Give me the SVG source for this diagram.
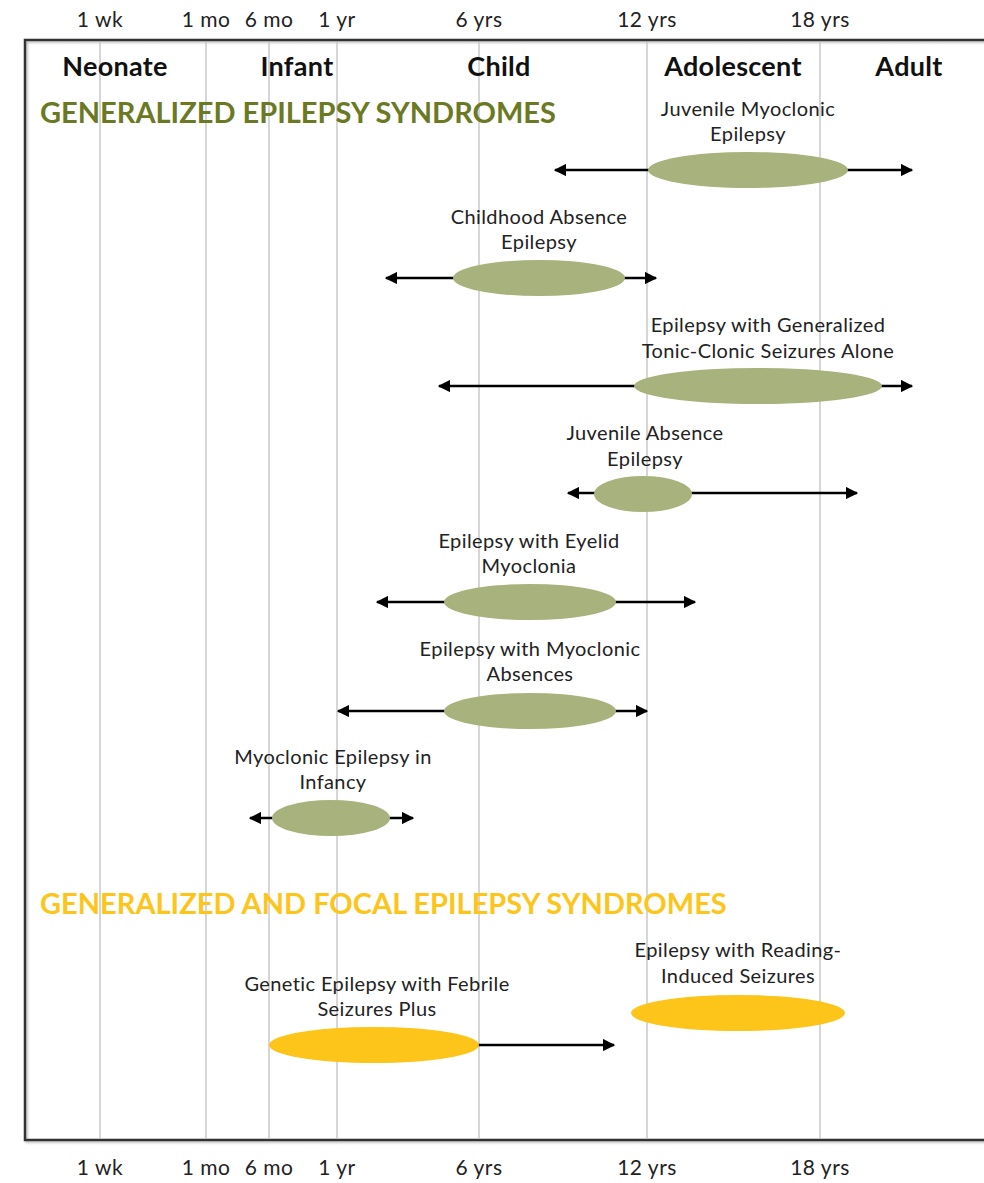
<svg xmlns="http://www.w3.org/2000/svg" width="984" height="1183" viewBox="0 0 984 1183">
<style>
.grid{stroke:#c8c8c8;stroke-width:1.5}
.axis{font-family:Lato,"Open Sans",sans-serif;font-size:21px;letter-spacing:0.5px;fill:#222;text-anchor:middle}
.stage{font-family:Lato,"Open Sans",sans-serif;font-size:27px;font-weight:bold;letter-spacing:0.3px;fill:#111;text-anchor:middle}
.lbl{font-family:Lato,"Open Sans",sans-serif;font-size:20px;letter-spacing:0.4px;fill:#222;text-anchor:middle}
.sec{font-family:Lato,"Open Sans",sans-serif;font-size:29px;font-weight:bold}
.gen{fill:#a8b27c}
.foc{fill:#fdc41a}
.ar{stroke:#000;stroke-width:2.5;fill:none}
</style>
<defs>
<marker id="ah" viewBox="0 0 10 10" refX="9" refY="5" markerWidth="5" markerHeight="5" orient="auto-start-reverse" markerUnits="strokeWidth">
<path d="M0,0 L10,5 L0,10 z" fill="#000"/>
</marker>
<filter id="sh" x="-5%" y="-5%" width="110%" height="110%"><feDropShadow dx="1.5" dy="1.5" stdDeviation="1" flood-color="#888" flood-opacity="0.6"/></filter>
</defs>
<rect width="984" height="1183" fill="#fff"/>
<g id="axis-top">
<text class="axis" x="100" y="27">1 wk</text>
<text class="axis" x="206" y="27">1 mo</text>
<text class="axis" x="269" y="27">6 mo</text>
<text class="axis" x="337" y="27">1 yr</text>
<text class="axis" x="479" y="27">6 yrs</text>
<text class="axis" x="647" y="27">12 yrs</text>
<text class="axis" x="820" y="27">18 yrs</text>
</g>
<g id="axis-bottom">
<text class="axis" x="100" y="1175">1 wk</text>
<text class="axis" x="206" y="1175">1 mo</text>
<text class="axis" x="269" y="1175">6 mo</text>
<text class="axis" x="337" y="1175">1 yr</text>
<text class="axis" x="479" y="1175">6 yrs</text>
<text class="axis" x="647" y="1175">12 yrs</text>
<text class="axis" x="820" y="1175">18 yrs</text>
</g>
<g id="frame">
<path d="M990,40 H25 V1140 H990" fill="none" stroke="#333" stroke-width="2.5" filter="url(#sh)"/>
</g>
<g id="gridlines">
<line class="grid" x1="100" y1="42" x2="100" y2="1139"/>
<line class="grid" x1="206" y1="42" x2="206" y2="1139"/>
<line class="grid" x1="269" y1="42" x2="269" y2="1139"/>
<line class="grid" x1="337" y1="42" x2="337" y2="1139"/>
<line class="grid" x1="479" y1="42" x2="479" y2="1139"/>
<line class="grid" x1="647" y1="42" x2="647" y2="1139"/>
<line class="grid" x1="820" y1="42" x2="820" y2="1139"/>
</g>
<g id="stages">
<text class="stage" x="115" y="76">Neonate</text>
<text class="stage" x="297" y="76">Infant</text>
<text class="stage" x="499" y="76">Child</text>
<text class="stage" x="733" y="76">Adolescent</text>
<text class="stage" x="909" y="76">Adult</text>
</g>
<g id="section-generalized">
<text class="sec" x="40" y="123" fill="#6b7a22">GENERALIZED EPILEPSY SYNDROMES</text>
</g>
<g id="section-focal">
<text class="sec" x="40" y="914" fill="#fdc41a">GENERALIZED AND FOCAL EPILEPSY SYNDROMES</text>
</g>
<g id="connectors">
<line class="ar" x1="555" y1="170" x2="912" y2="170" marker-start="url(#ah)" marker-end="url(#ah)"/>
<line class="ar" x1="386" y1="278" x2="656" y2="278" marker-start="url(#ah)" marker-end="url(#ah)"/>
<line class="ar" x1="439" y1="386" x2="912" y2="386" marker-start="url(#ah)" marker-end="url(#ah)"/>
<line class="ar" x1="568" y1="493" x2="857" y2="493" marker-start="url(#ah)" marker-end="url(#ah)"/>
<line class="ar" x1="377" y1="602" x2="695" y2="602" marker-start="url(#ah)" marker-end="url(#ah)"/>
<line class="ar" x1="338" y1="711" x2="647" y2="711" marker-start="url(#ah)" marker-end="url(#ah)"/>
<line class="ar" x1="250" y1="818" x2="413" y2="818" marker-start="url(#ah)" marker-end="url(#ah)"/>
<line class="ar" x1="478" y1="1045" x2="614" y2="1045" marker-end="url(#ah)"/>
</g>
<g id="jme">
<ellipse class="gen" cx="748" cy="170" rx="100" ry="18"/>
<text class="lbl" x="748" y="116">Juvenile Myoclonic</text>
<text class="lbl" x="748" y="141">Epilepsy</text>
</g>
<g id="cae">
<ellipse class="gen" cx="539" cy="278" rx="86" ry="18"/>
<text class="lbl" x="539" y="224">Childhood Absence</text>
<text class="lbl" x="539" y="249">Epilepsy</text>
</g>
<g id="egtcs">
<ellipse class="gen" cx="758" cy="386" rx="124" ry="18"/>
<text class="lbl" x="768" y="332">Epilepsy with Generalized</text>
<text class="lbl" x="768" y="358">Tonic-Clonic Seizures Alone</text>
</g>
<g id="jae">
<ellipse class="gen" cx="643" cy="494" rx="49" ry="18"/>
<text class="lbl" x="645" y="440">Juvenile Absence</text>
<text class="lbl" x="645" y="466">Epilepsy</text>
</g>
<g id="eem">
<ellipse class="gen" cx="530" cy="602" rx="86" ry="18"/>
<text class="lbl" x="529" y="548">Epilepsy with Eyelid</text>
<text class="lbl" x="529" y="573">Myoclonia</text>
</g>
<g id="ema">
<ellipse class="gen" cx="530" cy="711" rx="86" ry="18"/>
<text class="lbl" x="530" y="656">Epilepsy with Myoclonic</text>
<text class="lbl" x="530" y="681">Absences</text>
</g>
<g id="mei">
<ellipse class="gen" cx="331" cy="818" rx="59" ry="18"/>
<text class="lbl" x="333" y="764">Myoclonic Epilepsy in</text>
<text class="lbl" x="333" y="789">Infancy</text>
</g>
<g id="gefs">
<ellipse class="foc" cx="374" cy="1045" rx="105" ry="18"/>
<text class="lbl" x="377" y="991">Genetic Epilepsy with Febrile</text>
<text class="lbl" x="377" y="1016">Seizures Plus</text>
</g>
<g id="reading">
<ellipse class="foc" cx="738" cy="1013" rx="107" ry="18"/>
<text class="lbl" x="738" y="957">Epilepsy with Reading-</text>
<text class="lbl" x="738" y="983">Induced Seizures</text>
</g>
</svg>
